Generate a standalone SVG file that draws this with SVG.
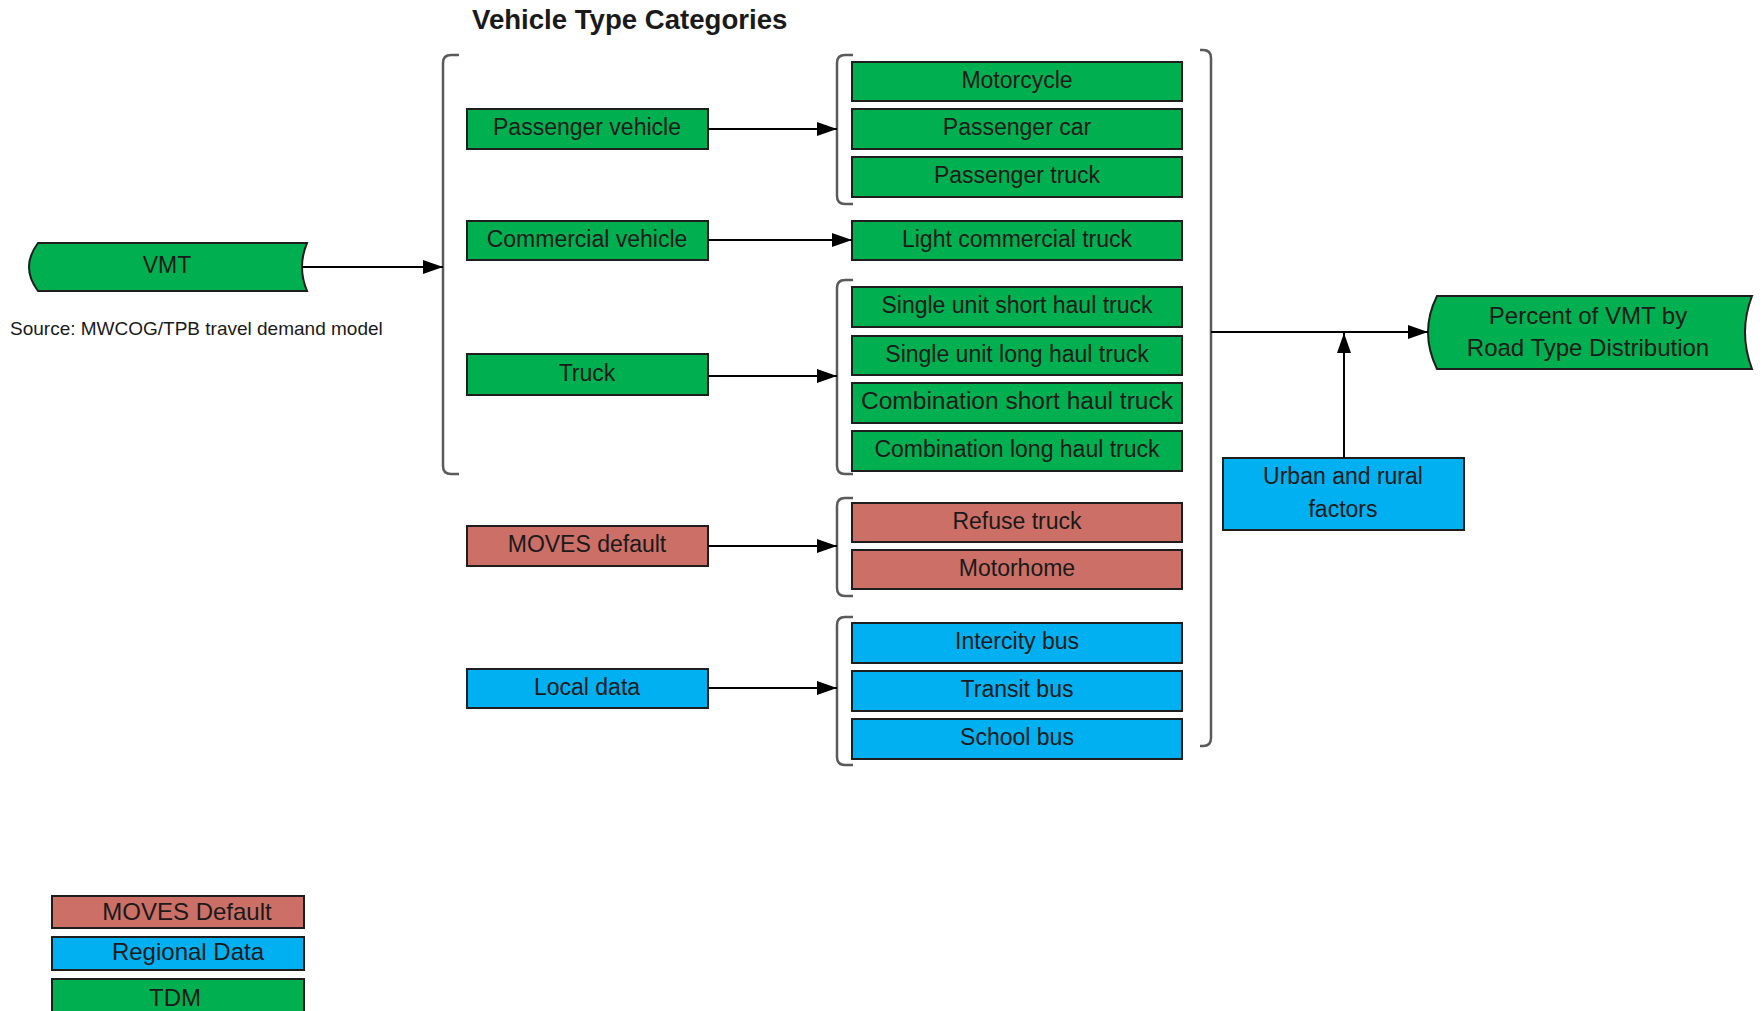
<svg xmlns="http://www.w3.org/2000/svg" width="1763" height="1011" viewBox="0 0 1763 1011">
<defs>
<marker id="ah" markerUnits="userSpaceOnUse" markerWidth="20" markerHeight="14" refX="20" refY="7" orient="auto">
<path d="M0,0 L20,7 L0,14 Z" fill="#000"/>
</marker>
<style>
.g{fill:#00B050;stroke:#1e1e1e;stroke-width:2}
.r{fill:#CC6F66;stroke:#1e1e1e;stroke-width:2}
.b{fill:#00B0F0;stroke:#1e1e1e;stroke-width:2}
.t{font-family:"Liberation Sans",Arial,sans-serif;font-size:23px;fill:#1a1a1a;text-anchor:middle}
.br{fill:none;stroke:#5a5a5a;stroke-width:2.5}
.c{fill:none;stroke:#000;stroke-width:2;marker-end:url(#ah)}
</style>
</defs>
<rect width="1763" height="1011" fill="#fff"/>
<text x="472" y="29" style="font-family:'Liberation Sans',Arial,sans-serif;font-size:27.6px;font-weight:bold;fill:#1a1a1a">Vehicle Type Categories</text>

<g id="vmt">
<path class="g" d="M38,243 H307 Q297,267 307,291 H38 Q20,267 38,243 Z"/>
<text class="t" x="167" y="273">VMT</text>
</g>
<text x="10" y="335" style="font-family:'Liberation Sans',Arial,sans-serif;font-size:19px;fill:#1a1a1a">Source: MWCOG/TPB travel demand model</text>

<g id="brackets">
<path class="br" d="M459,55 H451 Q443,55 443,63 V466 Q443,474 451,474 H459"/>
<path class="br" d="M853,55 H845 Q837,55 837,63 V196 Q837,204 845,204 H853"/>
<path class="br" d="M853,280 H845 Q837,280 837,288 V466 Q837,474 845,474 H853"/>
<path class="br" d="M853,498 H845 Q837,498 837,506 V588 Q837,596 845,596 H853"/>
<path class="br" d="M853,617 H845 Q837,617 837,625 V757 Q837,765 845,765 H853"/>
<path class="br" d="M1200,50 H1203 Q1211,50 1211,58 V738 Q1211,746 1203,746 H1200"/>
</g>

<g id="passenger-vehicle"><rect class="g" x="467" y="109" width="241" height="40"/><text class="t" x="587" y="135">Passenger vehicle</text></g>
<g id="commercial-vehicle"><rect class="g" x="467" y="221" width="241" height="39"/><text class="t" x="587" y="247">Commercial vehicle</text></g>
<g id="truck"><rect class="g" x="467" y="354" width="241" height="41"/><text class="t" x="587" y="381">Truck</text></g>
<g id="moves-default"><rect class="r" x="467" y="526" width="241" height="40"/><text class="t" x="587" y="552">MOVES default</text></g>
<g id="local-data"><rect class="b" x="467" y="669" width="241" height="39"/><text class="t" x="587" y="695">Local data</text></g>

<g id="motorcycle"><rect class="g" x="852" y="62" width="330" height="39"/><text class="t" x="1017" y="88">Motorcycle</text></g>
<g id="passenger-car"><rect class="g" x="852" y="109" width="330" height="40"/><text class="t" x="1017" y="135">Passenger car</text></g>
<g id="passenger-truck"><rect class="g" x="852" y="157" width="330" height="40"/><text class="t" x="1017" y="183">Passenger truck</text></g>
<g id="light-commercial-truck"><rect class="g" x="852" y="221" width="330" height="39"/><text class="t" x="1017" y="247">Light commercial truck</text></g>
<g id="su-short"><rect class="g" x="852" y="287" width="330" height="40"/><text class="t" x="1017" y="313">Single unit short haul truck</text></g>
<g id="su-long"><rect class="g" x="852" y="336" width="330" height="39"/><text class="t" x="1017" y="362">Single unit long haul truck</text></g>
<g id="comb-short"><rect class="g" x="852" y="383" width="330" height="40"/><text class="t" x="1017" y="409" textLength="312" lengthAdjust="spacingAndGlyphs">Combination short haul truck</text></g>
<g id="comb-long"><rect class="g" x="852" y="431" width="330" height="40"/><text class="t" x="1017" y="457">Combination long haul truck</text></g>
<g id="refuse-truck"><rect class="r" x="852" y="503" width="330" height="39"/><text class="t" x="1017" y="529">Refuse truck</text></g>
<g id="motorhome"><rect class="r" x="852" y="550" width="330" height="39"/><text class="t" x="1017" y="576">Motorhome</text></g>
<g id="intercity-bus"><rect class="b" x="852" y="623" width="330" height="40"/><text class="t" x="1017" y="649">Intercity bus</text></g>
<g id="transit-bus"><rect class="b" x="852" y="671" width="330" height="40"/><text class="t" x="1017" y="697">Transit bus</text></g>
<g id="school-bus"><rect class="b" x="852" y="719" width="330" height="40"/><text class="t" x="1017" y="745">School bus</text></g>

<g id="urban-rural"><rect class="b" x="1223" y="458" width="241" height="72"/><text class="t" x="1343" y="484">Urban and rural</text><text class="t" x="1343" y="517">factors</text></g>

<g id="percent-vmt">
<path class="g" d="M1437,296 H1752 Q1738,332 1752,369 H1437 Q1419,332 1437,296 Z"/>
<text class="t" x="1588" y="324" style="font-size:24px">Percent of VMT by</text>
<text class="t" x="1588" y="356" style="font-size:24px">Road Type Distribution</text>
</g>

<g id="connectors">
<line class="c" x1="302" y1="267" x2="443" y2="267"/>
<line class="c" x1="708" y1="129" x2="837" y2="129"/>
<line class="c" x1="708" y1="240" x2="852" y2="240"/>
<line class="c" x1="708" y1="376" x2="837" y2="376"/>
<line class="c" x1="708" y1="546" x2="837" y2="546"/>
<line class="c" x1="708" y1="688" x2="837" y2="688"/>
<line class="c" x1="1211" y1="332" x2="1428" y2="332"/>
<line class="c" x1="1344" y1="458" x2="1344" y2="333"/>
</g>

<g id="legend-moves"><rect class="r" x="52" y="896" width="252" height="32"/><text class="t" x="187" y="920" style="font-size:24px">MOVES Default</text></g>
<g id="legend-regional"><rect class="b" x="52" y="937" width="252" height="33"/><text class="t" x="188" y="960" style="font-size:24px">Regional Data</text></g>
<g id="legend-tdm"><rect class="g" x="52" y="979" width="252" height="40"/><text class="t" x="175" y="1006" style="font-size:24px">TDM</text></g>
</svg>
